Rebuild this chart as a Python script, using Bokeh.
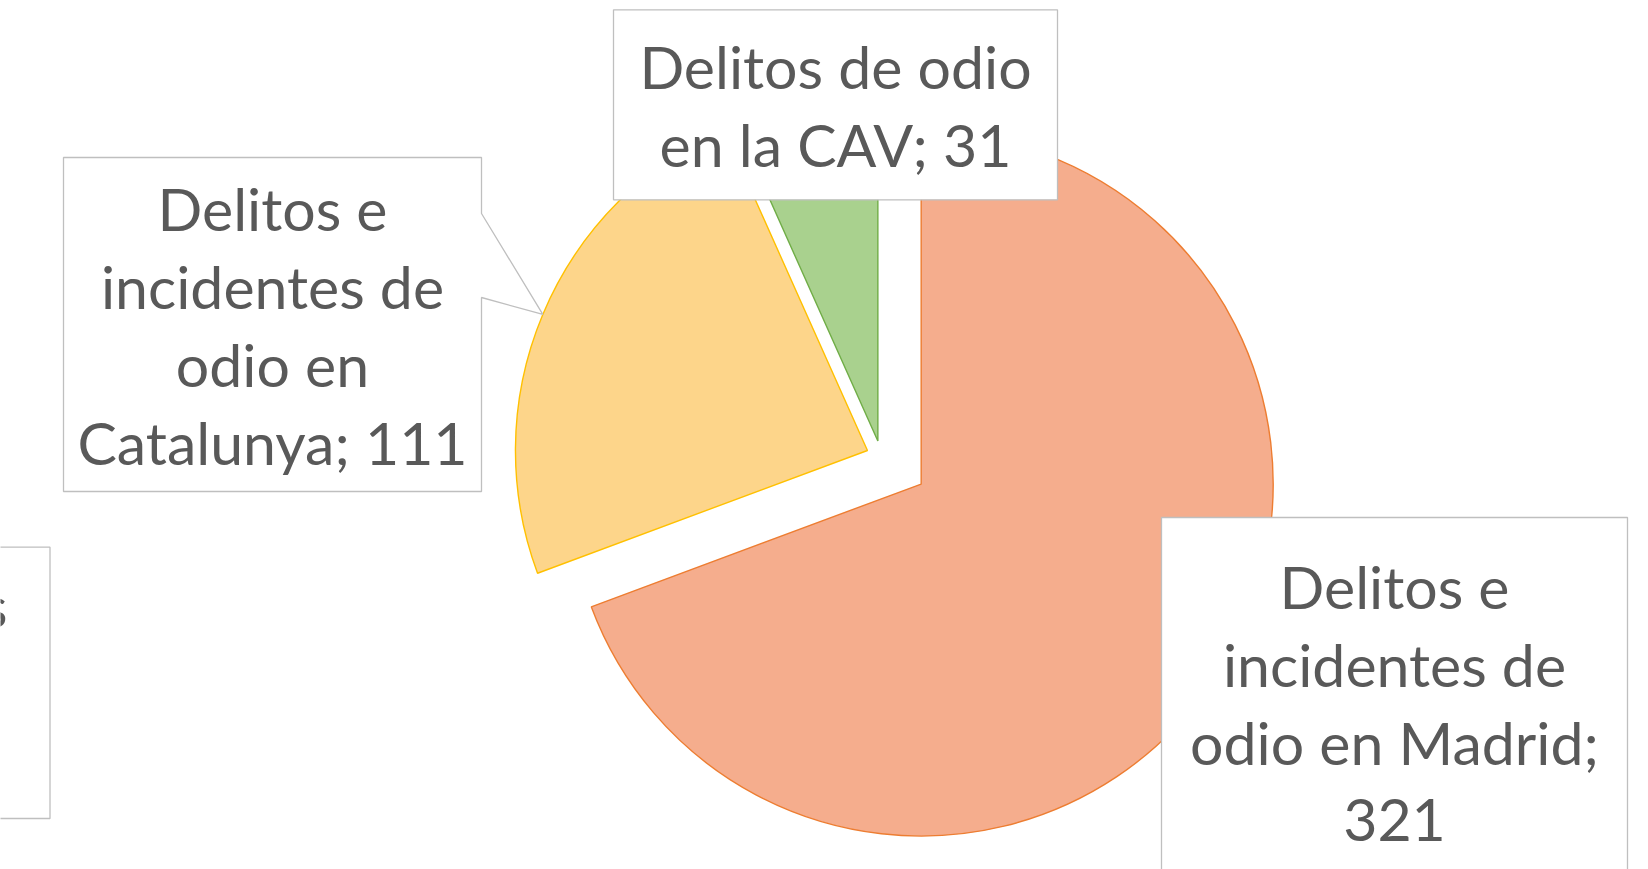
import math
import textwrap
from bokeh.plotting import figure
from bokeh.models import Range1d
from bokeh.core.properties import value
from bokeh.embed import file_html
from bokeh.resources import INLINE

# ---------------- data ----------------
categories = [
    "Delitos e incidentes de odio en Madrid",
    "Delitos e incidentes de odio en Catalunya",
    "Delitos de odio en la CAV",
]
values = [321, 111, 31]

# ---------------- style / layout ----------------
W, H = 1648, 869
fill_colors = ["#F5AD8D", "#FDD58A", "#A9D18E"]
line_colors = ["#ED7D31", "#FFC000", "#70AD47"]
explode_px = [48.8, 14.8, 15.5]
pie_cx, pie_cy = 880.6, 455.7          # screen coords (y down)
pie_r = 352
# label boxes (left, right, top, bottom) in screen coords
boxes = [(1161, 1627, 517, 886), (63, 481, 157, 491), (613, 1057, 9.3, 199.3)]
FONT = "Lato"
FSIZE = 59
LINE_H = 78
BASE_SHIFT = 1
TEXT_COLOR = "#595959"
BOX_LINE = "#BFBFBF"


def sy(y):
    return H - y


p = figure(width=W, height=H, x_range=Range1d(0, W), y_range=Range1d(0, H),
           output_backend="svg", toolbar_location=None, min_border=0,
           border_fill_color="white", background_fill_color="white")
p.axis.visible = False
p.xgrid.visible = False
p.ygrid.visible = False
p.outline_line_color = None

total = sum(values)
cum = 0
slice_info = []
for i, v in enumerate(values):
    a0 = 90 - cum / total * 360
    a1 = 90 - (cum + v) / total * 360
    cum += v
    b = math.radians((a0 + a1) / 2)
    cx = pie_cx + explode_px[i] * math.cos(b)
    cy = sy(pie_cy) + explode_px[i] * math.sin(b)
    slice_info.append((cx, cy, b))
    p.wedge(x=[cx], y=[cy], radius=pie_r, start_angle=math.radians(a1),
            end_angle=math.radians(a0), direction="anticlock",
            fill_color=fill_colors[i], line_color=line_colors[i], line_width=1.4)

# label boxes
for i, (l, r, t, btm) in enumerate(boxes):
    if i == 1:
        cx, cy, b = slice_info[i]
        tipx = cx + pie_r * math.cos(b)
        tipy = cy + pie_r * math.sin(b)
        xs = [l, r, r, tipx, r, r, l]
        ys = [sy(t), sy(t), sy(213), tipy, sy(297), sy(btm), sy(btm)]
        p.patch(x=xs, y=ys, fill_color="white", line_color=BOX_LINE, line_width=1.3)
    else:
        p.quad(left=[l], right=[r], top=[sy(t)], bottom=[sy(btm)],
               fill_color="white", line_color=BOX_LINE, line_width=1.3)

# partially visible label box at left edge
p.quad(left=[-400], right=[49.5], top=[sy(546.7)], bottom=[sy(818)],
       fill_color="white", line_color=BOX_LINE, line_width=1.3)
p.text(x=[7], y=[sy(625 - 20)], text=["s"], text_font=value(FONT),
       text_font_size=f"{FSIZE}px", text_color=TEXT_COLOR,
       text_align="right", text_baseline="alphabetic")

# label texts
for i, (l, r, t, btm) in enumerate(boxes):
    lines = textwrap.wrap(f"{categories[i]}; {values[i]}", width=15)
    n = len(lines)
    mid = (t + btm) / 2
    xs, ys = [], []
    for k in range(n):
        xs.append((l + r) / 2)
        ys.append(sy(mid + (k - (n - 1) / 2) * LINE_H + BASE_SHIFT))
    p.text(x=xs, y=ys, text=lines, text_font=value(FONT),
           text_font_size=f"{FSIZE}px", text_color=TEXT_COLOR,
           text_align="center", text_baseline="alphabetic")

open("out.html", "w").write(file_html(p, INLINE))
